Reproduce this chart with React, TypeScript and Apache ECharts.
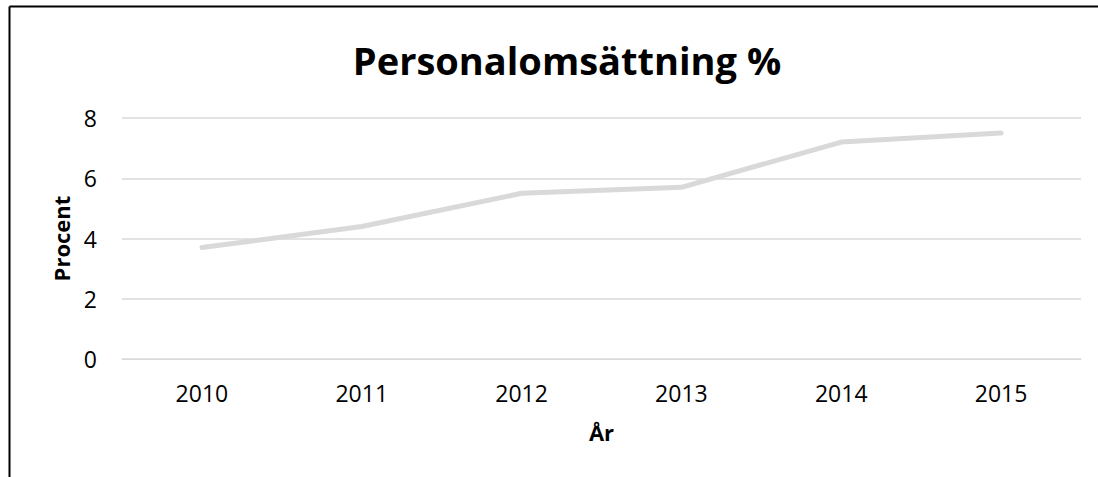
import React, { useEffect, useRef } from "react";
import * as echarts from "echarts";

const categories = ["2010", "2011", "2012", "2013", "2014", "2015"];
const values = [3.7, 4.4, 5.5, 5.7, 7.2, 7.5];
const yTicks = { min: 0, max: 8, interval: 2 };

const FONT = "'Open Sans', 'Noto Sans', sans-serif";

export default function App() {
  const ref = useRef<HTMLDivElement>(null);
  useEffect(() => {
    if (!ref.current) return;
    const chart = echarts.init(ref.current, undefined, { renderer: "svg" });
    chart.setOption({
      animation: false,
      backgroundColor: "#ffffff",
      title: {
        text: "Personalomsättning %",
        left: 562,
        top: 36,
        textAlign: "center",
        textStyle: { fontFamily: FONT, fontWeight: "bold", fontSize: 38, color: "#000" },
      },
      graphic: [
        {
          type: "line",
          shape: { x1: 9.5, y1: 6.5, x2: 1098, y2: 6.5 },
          style: { stroke: "#000", lineWidth: 2 },
          silent: true,
        },
        {
          type: "line",
          shape: { x1: 9.5, y1: 6.5, x2: 9.5, y2: 477 },
          style: { stroke: "#000", lineWidth: 2 },
          silent: true,
        },
      ],
      grid: { left: 122, right: 17, top: 118, bottom: 118, containLabel: false },
      xAxis: {
        type: "category",
        data: categories,
        boundaryGap: true,
        axisLine: { show: true, lineStyle: { color: "#d9d9d9", width: 1 } },
        axisTick: { show: false },
        axisLabel: { fontFamily: FONT, fontSize: 23, color: "#000", margin: 22 },
        name: "År",
        nameLocation: "middle",
        nameGap: 62,
        nameTextStyle: { fontFamily: FONT, fontSize: 22, fontWeight: "bold", color: "#000" },
      },
      yAxis: {
        type: "value",
        min: yTicks.min,
        max: yTicks.max,
        interval: yTicks.interval,
        axisLine: { show: false },
        axisTick: { show: false },
        splitLine: { lineStyle: { color: "#d9d9d9", width: 1.5 } },
        axisLabel: { fontFamily: FONT, fontSize: 23, color: "#000", margin: 25 },
        name: "Procent",
        nameLocation: "middle",
        nameGap: 50,
        nameRotate: 90,
        nameTextStyle: { fontFamily: FONT, fontSize: 22, fontWeight: "bold", color: "#000" },
      },
      series: [
        {
          type: "line",
          data: values,
          symbol: "none",
          lineStyle: { color: "#d9d9d9", width: 5, cap: "round", join: "round" },
        },
      ],
    });
    return () => chart.dispose();
  }, []);
  return (
    <div
      ref={ref}
      style={{ position: "absolute", left: 0, top: 0, width: 1098, height: 477 }}
    />
  );
}
